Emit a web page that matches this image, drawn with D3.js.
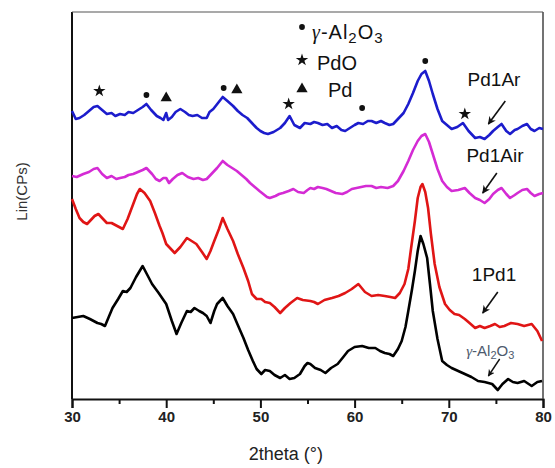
<!DOCTYPE html>
<html>
<head>
    <meta charset="utf-8">
    <!-- Load d3.js -->
    <script src="https://d3js.org/d3.v7.min.js"></script>
    <style>
        body { margin: 0; background: #fff; }
        text { font-family: "Liberation Sans", Arial, sans-serif; }
    </style>
</head>

<body>

    <!-- Create a div where the graph will take place -->
    <div id="my_dataviz"></div>

    <script>

        // XRD patterns: [2theta, intensity] (arbitrary units, curves stacked)
        var pd1Ar = [[30.0,288],[30.4,280],[30.8,281],[31.3,284],[31.8,288],[32.3,292],[32.7,293],[33.2,289],[33.7,285],[34.2,286],[34.6,283],[35.1,285],[35.6,284],[36.0,287],[36.5,286],[37.0,289],[37.5,292],[37.9,295],[38.4,289],[39.0,283],[39.4,281],[39.7,279],[40.0,286],[40.2,279],[40.6,282],[41.0,287],[41.5,290],[42.0,287],[42.4,284],[42.8,283],[43.3,284],[43.8,281],[44.3,281],[44.6,287],[45.0,290],[45.5,296],[46.0,302],[46.5,298],[47.1,293],[47.6,288],[48.1,284],[48.6,281],[49.1,276],[49.6,271],[50.0,268],[50.4,266],[50.8,265],[51.4,267],[52.1,271],[52.6,276],[53.1,283],[53.6,274],[54.2,271],[54.7,276],[55.3,275],[55.7,277],[56.1,276],[56.6,274],[57.1,275],[57.6,271],[58.1,273],[58.6,269],[59.0,268],[59.5,271],[60.0,274],[60.4,276],[60.9,275],[61.4,278],[61.8,278],[62.3,276],[62.8,278],[63.2,276],[63.7,274],[64.1,275],[64.6,280],[65.2,286],[65.7,295],[66.2,306],[66.7,318],[67.1,325],[67.5,328],[67.9,318],[68.3,305],[68.8,290],[69.3,278],[69.8,274],[70.3,270],[70.9,272],[71.5,276],[72.1,268],[72.8,261],[73.3,262],[73.8,260],[74.3,264],[74.7,268],[75.2,272],[75.6,275],[76.1,268],[76.5,265],[77.0,269],[77.3,270],[77.8,273],[78.3,275],[78.7,270],[79.1,268],[79.6,271],[80.0,270]];

        var pd1Air = [[30.0,223],[30.5,222],[31.2,225],[31.8,227],[32.3,230],[32.7,231],[33.2,225],[33.7,221],[34.2,223],[34.7,220],[35.1,221],[35.6,222],[36.0,224],[36.5,225],[37.0,227],[37.5,229],[37.9,231],[38.5,225],[38.9,220],[39.3,218],[39.7,221],[40.0,221],[40.3,216],[40.7,220],[41.2,224],[41.7,226],[42.3,222],[42.9,220],[43.4,221],[43.9,219],[44.3,220],[44.8,225],[45.4,231],[46.0,238],[46.5,234],[47.0,231],[47.5,228],[48.0,224],[48.5,220],[48.9,216],[49.4,212],[49.9,208],[50.3,205],[50.7,202],[51.0,201],[51.6,203],[52.0,205],[52.4,206],[53.0,208],[53.5,210],[54.0,207],[54.6,206],[55.0,209],[55.3,211],[55.7,210],[56.1,212],[56.6,211],[57.0,210],[57.5,208],[58.0,206],[58.7,205],[59.2,207],[59.7,210],[60.2,211],[60.7,212],[61.2,213],[61.8,213],[62.3,211],[62.8,212],[63.5,211],[64.1,213],[64.6,218],[65.2,228],[65.7,238],[66.2,249],[66.7,258],[67.1,263],[67.5,265],[67.9,257],[68.3,245],[68.8,230],[69.3,218],[69.8,212],[70.3,208],[71.0,209],[71.7,211],[72.2,206],[72.8,201],[73.3,199],[73.8,196],[74.3,200],[74.7,205],[75.2,209],[75.6,211],[76.1,205],[76.5,201],[77.0,204],[77.3,206],[77.8,209],[78.3,210],[78.7,206],[79.1,203],[79.6,205],[80.0,206]];

        var onePd1 = [[30.0,200],[30.4,190],[30.8,181],[31.2,177],[31.6,175],[32.0,179],[32.4,183],[32.8,185],[33.3,180],[33.7,176],[34.2,176],[34.8,173],[35.4,170],[35.9,180],[36.5,195],[36.9,205],[37.2,210],[37.7,206],[38.3,198],[38.8,186],[39.3,173],[39.6,166],[40.0,155],[40.5,150],[40.9,146],[41.5,152],[42.2,161],[42.7,158],[43.2,155],[43.8,147],[44.3,140],[44.7,148],[45.1,158],[45.6,170],[46.0,181],[46.5,170],[47.1,158],[47.6,145],[48.2,131],[48.7,118],[49.1,105],[49.6,100],[50.1,100],[50.5,97],[51.0,96],[51.5,92],[52.1,86],[52.6,91],[53.2,96],[53.9,101],[54.5,99],[55.3,98],[55.7,97],[56.1,95],[56.8,99],[57.6,101],[58.3,103],[59.0,106],[59.7,110],[60.4,115],[61.1,107],[61.8,103],[62.5,104],[63.2,103],[63.8,102],[64.3,101],[64.8,106],[65.3,115],[65.7,130],[66.0,151],[66.4,178],[66.7,201],[67.0,212],[67.2,215],[67.5,207],[67.8,191],[68.1,165],[68.5,135],[69.0,112],[69.6,95],[70.1,89],[70.6,85],[71.1,84],[71.7,80],[72.2,76],[72.8,71],[73.3,73],[73.8,71],[74.4,73],[74.9,75],[75.4,72],[75.9,73],[76.6,76],[77.3,75],[78.0,73],[78.8,75],[79.4,68],[79.9,58]];

        var alumina = [[30.0,81],[30.6,82],[31.2,83],[31.9,80],[32.7,76],[33.1,75],[33.5,73],[33.9,82],[34.3,91],[34.9,100],[35.4,108],[35.8,107],[36.2,111],[36.8,122],[37.5,133],[38.0,124],[38.5,115],[39.2,106],[40.0,95],[40.6,78],[41.1,65],[41.6,76],[42.2,88],[42.6,87],[43.0,91],[43.5,88],[43.9,86],[44.3,83],[44.7,76],[45.1,88],[45.4,95],[46.0,101],[46.5,93],[47.1,85],[47.6,74],[48.2,61],[48.7,49],[49.2,38],[49.6,30],[50.1,25],[50.5,29],[51.0,28],[51.5,24],[52.1,21],[52.6,24],[53.1,20],[53.6,21],[54.2,25],[54.7,33],[55.0,36],[55.3,35],[55.8,31],[56.4,29],[56.9,26],[57.5,31],[58.2,35],[58.8,42],[59.3,48],[60.0,52],[60.8,53],[61.5,51],[62.2,51],[62.7,48],[63.2,46],[63.7,45],[64.1,43],[64.6,50],[65.0,58],[65.4,72],[65.7,88],[66.1,110],[66.4,128],[66.7,148],[67.0,163],[67.3,155],[67.7,141],[68.0,115],[68.3,88],[68.8,60],[69.3,38],[69.8,34],[70.3,31],[71.0,28],[71.7,25],[72.4,22],[73.1,18],[73.8,17],[74.6,15],[75.2,9],[75.7,15],[76.3,20],[76.8,17],[77.3,16],[78.0,18],[78.8,13],[79.4,17],[79.9,18]];

        // peak markers [2theta, height]
        var aluminaPeaks = [[37.9,304],[46.1,311],[60.8,291],[67.5,338]];
        var pdoPeaks = [[32.9,308],[53.0,295],[71.7,285]];
        var pdPeaks = [[40.0,301],[47.5,309]];

        var xTicks = [30, 40, 50, 60, 70, 80];
        var xMinorTicks = [35, 45, 55, 65, 75];

        // set the dimensions and margins of the graph
        var margin = { top: 12, right: 12, bottom: 69, left: 72 },
            width = 555 - margin.left - margin.right,
            height = 468 - margin.top - margin.bottom;

        var svg = d3.select("#my_dataviz")
            .append("svg")
            .attr("width", width + margin.left + margin.right)
            .attr("height", height + margin.top + margin.bottom)
            .append("g")
            .attr("transform", "translate(" + margin.left + "," + margin.top + ")");

        // arrow head
        svg.append("defs").append("marker")
            .attr("id", "arr")
            .attr("viewBox", "0 0 10 10")
            .attr("refX", 9).attr("refY", 5)
            .attr("markerWidth", 5).attr("markerHeight", 5)
            .attr("orient", "auto")
            .append("path")
            .attr("d", "M0,0L10,5L0,10L3,5z")
            .attr("fill", "#111");

        var x = d3.scaleLinear().domain([30, 80]).range([0, width]);
        var y = d3.scaleLinear().domain([0, 387]).range([height, 0]);

        // X axis
        var xAxis = svg.append("g")
            .attr("transform", "translate(0," + height + ")")
            .call(d3.axisBottom(x).tickValues(xTicks).tickSize(9).tickPadding(3));
        xAxis.select(".domain").attr("stroke", "#111").attr("stroke-width", 2);
        xAxis.selectAll(".tick line").attr("stroke", "#111").attr("stroke-width", 2);
        xAxis.selectAll("text")
            .attr("fill", "#222")
            .style("font-size", "15px")
            .style("font-weight", "bold");

        var minor = svg.append("g")
            .attr("transform", "translate(0," + height + ")")
            .call(d3.axisBottom(x).tickValues(xMinorTicks).tickSize(5).tickFormat(""));
        minor.select(".domain").remove();
        minor.selectAll(".tick line").attr("stroke", "#111").attr("stroke-width", 2);

        // frame
        svg.append("line").attr("x1", 0).attr("x2", 0).attr("y1", 0).attr("y2", height)
            .attr("stroke", "#111").attr("stroke-width", 2);
        svg.append("line").attr("x1", width).attr("x2", width).attr("y1", 0).attr("y2", height)
            .attr("stroke", "#444").attr("stroke-width", 1.5);
        svg.append("line").attr("x1", 0).attr("x2", width).attr("y1", 0).attr("y2", 0)
            .attr("stroke", "#555").attr("stroke-width", 1.2);

        // axis labels
        svg.append("text")
            .attr("text-anchor", "middle")
            .attr("x", x(52.7))
            .attr("y", height + 61)
            .attr("fill", "#222")
            .style("font-size", "18px")
            .text("2theta (°)");
        svg.append("text")
            .attr("text-anchor", "middle")
            .attr("transform", "translate(-45," + (height / 2 - 14) + ") rotate(-90)")
            .attr("fill", "#333")
            .style("font-size", "15px")
            .text("Lin(CPs)");

        // the patterns
        var line = d3.line()
            .x(function (d) { return x(d[0]); })
            .y(function (d) { return y(d[1]); });

        var series = [
            { data: alumina, color: "#000000" },
            { data: onePd1, color: "#e01515" },
            { data: pd1Air, color: "#d42bd4" },
            { data: pd1Ar, color: "#1c1ccc" }
        ];
        series.forEach(function (s) {
            svg.append("path")
                .datum(s.data)
                .attr("fill", "none")
                .attr("stroke", s.color)
                .attr("stroke-width", 2.6)
                .attr("stroke-linejoin", "round")
                .attr("d", line);
        });

        // peak markers
        function markers(data, type, size) {
            svg.selectAll(null)
                .data(data)
                .enter()
                .append("path")
                .attr("d", d3.symbol().type(type).size(size))
                .attr("transform", function (d) { return "translate(" + x(d[0]) + "," + y(d[1]) + ")"; })
                .attr("fill", "#111");
        }
        markers(aluminaPeaks, d3.symbolCircle, 26);
        markers(pdoPeaks, d3.symbolStar, 48);
        markers(pdPeaks, d3.symbolTriangle, 55);

        // legend
        var leg = svg.append("g").attr("transform", "translate(" + (x(30) + 230) + ",0)");
        leg.append("path").attr("d", d3.symbol().type(d3.symbolCircle).size(26)())
            .attr("transform", "translate(0,15)").attr("fill", "#111");
        leg.append("path").attr("d", d3.symbol().type(d3.symbolStar).size(48)())
            .attr("transform", "translate(0,48)").attr("fill", "#111");
        leg.append("path").attr("d", d3.symbol().type(d3.symbolTriangle).size(55)())
            .attr("transform", "translate(0,77)").attr("fill", "#111");

        var t1 = leg.append("text").attr("x", 10).attr("y", 27)
            .attr("fill", "#111").style("font-size", "20px").style("letter-spacing", "1px");
        t1.append("tspan").style("font-family", "'Liberation Serif', serif").style("font-style", "italic").text("γ");
        t1.append("tspan").text("-Al");
        t1.append("tspan").attr("dy", 4).style("font-size", "15px").text("2");
        t1.append("tspan").attr("dy", -4).text("O");
        t1.append("tspan").attr("dy", 4).style("font-size", "15px").text("3");
        leg.append("text").attr("x", 15).attr("y", 58)
            .attr("fill", "#111").style("font-size", "20px").text("PdO");
        leg.append("text").attr("x", 26).attr("y", 85)
            .attr("fill", "#111").style("font-size", "20px").text("Pd");

        // sample labels with arrows
        var labels = [
            { name: "Pd1Ar", tx: 74.8, ty: 313, a: [76.0, 298, 74.2, 275] },
            { name: "Pd1Air", tx: 74.9, ty: 237, a: [75.1, 226, 73.6, 206] },
            { name: "1Pd1", tx: 74.8, ty: 118, a: [75.2, 107, 73.6, 86] }
        ];
        labels.forEach(function (l) {
            svg.append("text")
                .attr("text-anchor", "middle")
                .attr("x", x(l.tx)).attr("y", y(l.ty))
                .attr("fill", "#111")
                .style("font-size", "19px")
                .text(l.name);
            svg.append("line")
                .attr("x1", x(l.a[0])).attr("y1", y(l.a[1]))
                .attr("x2", x(l.a[2])).attr("y2", y(l.a[3]))
                .attr("stroke", "#111").attr("stroke-width", 1.6)
                .attr("marker-end", "url(#arr)");
        });

        var t2 = svg.append("text")
            .attr("text-anchor", "middle")
            .attr("x", x(74.4)).attr("y", y(43))
            .attr("fill", "#4d5a6e")
            .style("font-size", "15px");
        t2.append("tspan").style("font-family", "'Liberation Serif', serif").style("font-style", "italic").text("γ");
        t2.append("tspan").text("-Al");
        t2.append("tspan").attr("dy", 3).style("font-size", "11px").text("2");
        t2.append("tspan").attr("dy", -3).text("O");
        t2.append("tspan").attr("dy", 3).style("font-size", "11px").text("3");
        svg.append("line")
            .attr("x1", x(75.4)).attr("y1", y(40))
            .attr("x2", x(74.2)).attr("y2", y(23))
            .attr("stroke", "#111").attr("stroke-width", 1.4)
            .attr("marker-end", "url(#arr)");

    </script>
</body>

</html>
